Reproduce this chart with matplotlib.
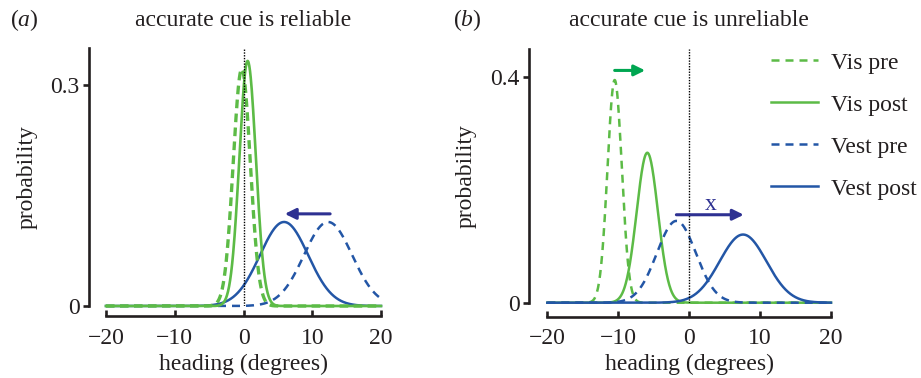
import numpy as np
import matplotlib.pyplot as plt
from matplotlib.lines import Line2D

plt.rcParams['font.family'] = ['Liberation Serif', 'DejaVu Serif']
plt.rcParams['mathtext.fontset'] = 'custom'
plt.rcParams['mathtext.rm'] = 'Liberation Serif'
plt.rcParams['mathtext.it'] = 'Liberation Serif:italic'

# curve parameters (mean, sd of each gaussian, degrees)
labels = ['Vis pre', 'Vis post', 'Vest pre', 'Vest post']
mean_a = [-0.25, 0.6, 12.3, 5.9]
sd_a = [1.24, 1.2, 3.5, 3.5]
mean_b = [-10.5, -5.9, -1.8, 7.6]
sd_b = [1.01, 1.5, 2.75, 3.3]

# arrows (x start, x end, y)
arrow_a = [12.6, 6.0, 0.125]
arrow_b_vis = [-10.5, -6.2, 0.412]
arrow_b_vest = [-1.8, 7.7, 0.156]

xticks = [-20, -10, 0, 10, 20]
yticks_a = [0, 0.3]
yticks_b = [0, 0.4]
ytop_a = 0.35
ytop_b = 0.45

green = '#5cbb46'
blue = '#2356a6'
green_arrow = '#00a651'
navy = '#2e3192'
dark = '#231f20'

x = np.linspace(-20, 20, 801)


def gauss(m, s):
    return np.exp(-0.5 * ((x - m) / s) ** 2) / (s * np.sqrt(2 * np.pi))


def style(ax, ytop, yticks):
    ax.set_xlim(-20, 20)
    ax.set_ylim(0, ytop)
    for s in ['top', 'right']:
        ax.spines[s].set_visible(False)
    ax.spines['left'].set_bounds(0, ytop)
    ax.spines['bottom'].set_bounds(-20, 20)
    for s in ['left', 'bottom']:
        ax.spines[s].set_linewidth(1.9)
        ax.spines[s].set_color(dark)
    ax.set_xticks(xticks)
    ax.set_xticklabels(['\u221220', '\u221210', '0', '10', '20'])
    ax.set_yticks(yticks)
    ax.set_yticklabels([str(t) for t in yticks])
    ax.tick_params(axis='x', direction='in', length=4, width=1.9, pad=8,
                   labelsize=17, colors=dark)
    ax.tick_params(axis='y', direction='out', length=4, width=1.9, pad=3,
                   labelsize=17, colors=dark)
    ax.axvline(0, 0, 1, color='black', lw=1.0, ls=(0, (1, 1)))
    ax.set_xlabel('heading (degrees)', fontsize=17, color=dark)
    ax.set_ylabel('probability', fontsize=17, color=dark)


def arrow(ax, a, color):
    ax.annotate('', xy=(a[1], a[2]), xytext=(a[0], a[2]),
                arrowprops=dict(arrowstyle='-|>,head_length=0.65,head_width=0.32',
                                color=color, lw=2.2, shrinkA=0, shrinkB=0))


fig = plt.figure(figsize=(9.21, 3.78), dpi=100)
ax1 = fig.add_axes([106 / 921, 72 / 378, 275 / 921, 258 / 378])
ax2 = fig.add_axes([547.3 / 921, 75.3 / 378, 283.7 / 921, 253.7 / 378])

# panel a
ax1.plot(x, gauss(mean_a[3], sd_a[3]), color=blue, lw=1.8, clip_on=False)
ax1.plot(x, gauss(mean_a[2], sd_a[2]), color=blue, lw=1.8, dashes=(3.2, 2.4), clip_on=False)
ax1.plot(x, gauss(mean_a[0], sd_a[0]), color=green, lw=2.4, dashes=(2.6, 1.6), clip_on=False)
ax1.plot(x, gauss(mean_a[1], sd_a[1]), color=green, lw=1.9, clip_on=False)
arrow(ax1, arrow_a, navy)
style(ax1, ytop_a, yticks_a)
ax1.spines['left'].set_position(('outward', 12))
ax1.spines['bottom'].set_position(('outward', 7.5))
ax1.yaxis.set_label_coords(-0.25, 0.5)
ax1.xaxis.set_label_coords(0.5, -0.187)

# panel b
ax2.plot(x, gauss(mean_b[1], sd_b[1]), color=green, lw=1.8, clip_on=False)
ax2.plot(x, gauss(mean_b[0], sd_b[0]), color=green, lw=1.8, dashes=(3.2, 2.4), clip_on=False)
ax2.plot(x, gauss(mean_b[3], sd_b[3]), color=blue, lw=1.8, clip_on=False)
ax2.plot(x, gauss(mean_b[2], sd_b[2]), color=blue, lw=1.8, dashes=(3.2, 2.4), clip_on=False)
arrow(ax2, arrow_b_vis, green_arrow)
arrow(ax2, arrow_b_vest, navy)
ax2.text(3.0, 0.175, 'x', color=navy, fontsize=17, ha='center', va='center')
style(ax2, ytop_b, yticks_b)
ax2.spines['left'].set_position(('outward', 13))
ax2.spines['bottom'].set_position(('outward', 10))
ax2.yaxis.set_label_coords(-0.25, 0.5)
ax2.xaxis.set_label_coords(0.5, -0.2)

handles = [Line2D([], [], color=green, lw=1.8, dashes=(3.2, 2.4)),
           Line2D([], [], color=green, lw=1.8),
           Line2D([], [], color=blue, lw=1.8, dashes=(3.2, 2.4)),
           Line2D([], [], color=blue, lw=1.8)]
fig.legend(handles, labels, loc='upper left', bbox_to_anchor=(771 / 921, 1 - 52 / 378),
           frameon=False, fontsize=17, handlelength=1.98, handletextpad=0.57,
           labelspacing=0.87, borderpad=0, borderaxespad=0, labelcolor=dark)

fig.text(10 / 921, 1 - 26 / 378, r'($\it{a}$)', fontsize=17, color=dark, va='baseline')
fig.text(453 / 921, 1 - 26 / 378, r'($\it{b}$)', fontsize=17, color=dark, va='baseline')
fig.text(243.5 / 921, 1 - 26 / 378, 'accurate cue is reliable', fontsize=17,
         color=dark, ha='center', va='baseline')
fig.text(689 / 921, 1 - 26 / 378, 'accurate cue is unreliable', fontsize=17,
         color=dark, ha='center', va='baseline')

fig.savefig('out.png', dpi=100)
